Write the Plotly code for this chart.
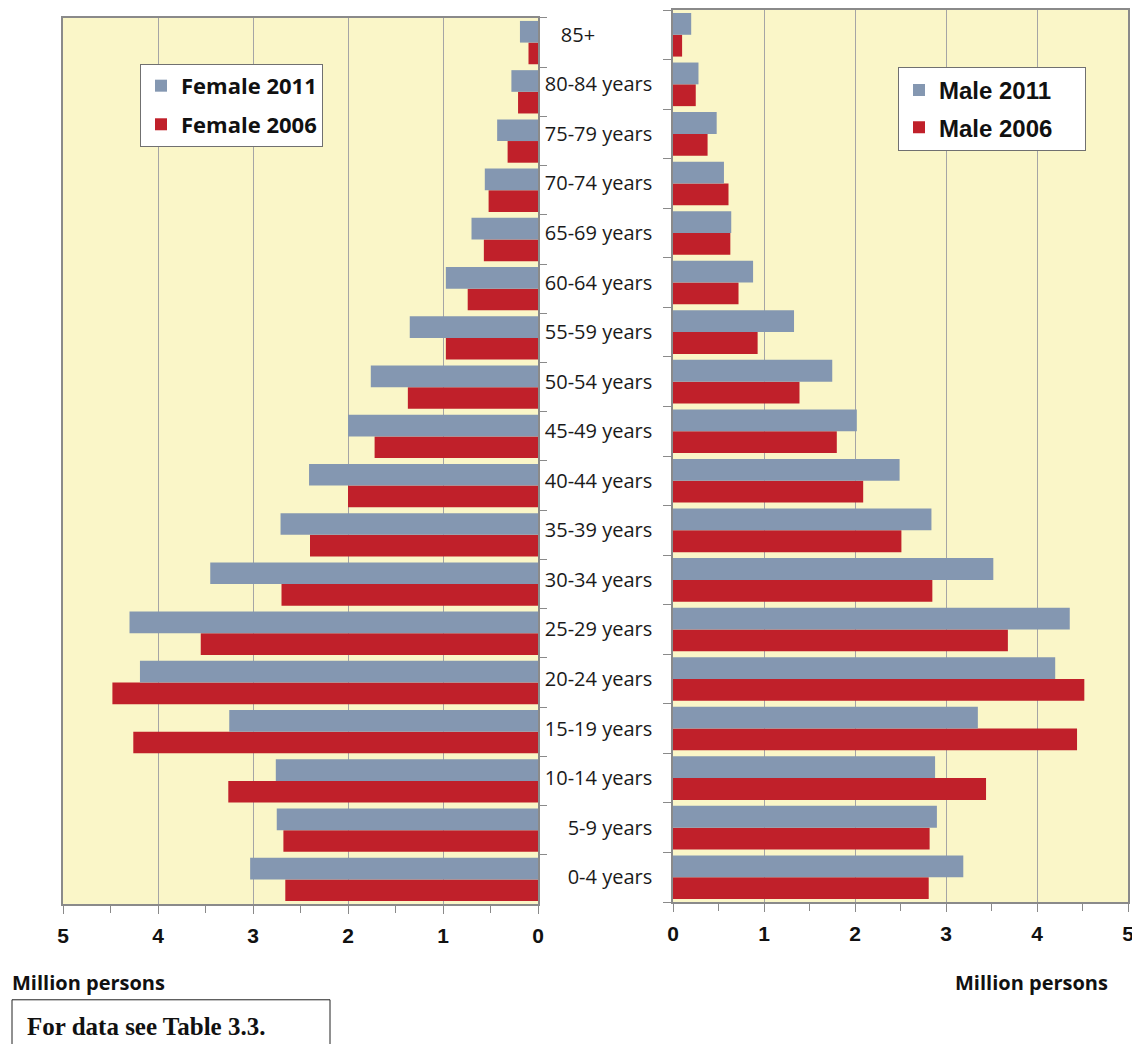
import plotly.graph_objects as go

age_groups = ["0-4 years", "5-9 years", "10-14 years", "15-19 years", "20-24 years",
              "25-29 years", "30-34 years", "35-39 years", "40-44 years", "45-49 years",
              "50-54 years", "55-59 years", "60-64 years", "65-69 years", "70-74 years",
              "75-79 years", "80-84 years", "85+"]
female_2011 = [3.03, 2.75, 2.76, 3.25, 4.19, 4.30, 3.45, 2.71, 2.41, 2.00, 1.76, 1.35, 0.97, 0.70, 0.56, 0.43, 0.28, 0.19]
female_2006 = [2.66, 2.68, 3.26, 4.26, 4.48, 3.55, 2.70, 2.40, 2.00, 1.72, 1.37, 0.97, 0.74, 0.57, 0.52, 0.32, 0.21, 0.10]
male_2011 = [3.19, 2.90, 2.88, 3.35, 4.20, 4.36, 3.52, 2.84, 2.49, 2.02, 1.75, 1.33, 0.88, 0.64, 0.56, 0.48, 0.28, 0.20]
male_2006 = [2.81, 2.82, 3.44, 4.44, 4.52, 3.68, 2.85, 2.51, 2.09, 1.80, 1.39, 0.93, 0.72, 0.63, 0.61, 0.38, 0.25, 0.10]
x_ticks = [0, 1, 2, 3, 4, 5]

BLUE = "#8497B1"
RED = "#C0202A"
BG = "#FAF6C8"
GRID = "#A5A5A5"
AXIS = "#8A8A8A"

OFF = 8  # page offset of the figure (body margin)
W, H = 1132, 1036
ML, MR, MT, MB = 55, 12, 0, 140
PW = W - ML - MR
PH = H - MT - MB


def px_x(p):
    return (p - OFF - ML) / PW


def px_y(p):
    return min(1.0, 1 - (p - OFF - MT) / PH)


# label text: pad the short top label so it sits like the original
tick_text = [a if a != "85+" else a + "\u00a0" * 11 for a in age_groups]
PAD = "\u00a0" * 4  # extra room on the right of the male legend entries

fig = go.Figure()
fig.add_trace(go.Bar(y=age_groups, x=female_2006, orientation="h", name="Female 2006",
                     marker=dict(color=RED, line=dict(width=0)), xaxis="x", yaxis="y",
                     legend="legend", legendgroup="f06", legendrank=2))
fig.add_trace(go.Bar(y=age_groups, x=female_2011, orientation="h", name="Female 2011",
                     marker=dict(color=BLUE, line=dict(width=0)), xaxis="x", yaxis="y",
                     legend="legend", legendgroup="f11", legendrank=1))
fig.add_trace(go.Bar(y=age_groups, x=male_2006, orientation="h", name="Male 2006" + PAD,
                     marker=dict(color=RED, line=dict(width=0)), xaxis="x2", yaxis="y2",
                     legend="legend2", legendgroup="m06", legendrank=2))
fig.add_trace(go.Bar(y=age_groups, x=male_2011, orientation="h", name="Male 2011" + PAD,
                     marker=dict(color=BLUE, line=dict(width=0)), xaxis="x2", yaxis="y2",
                     legend="legend2", legendgroup="m11", legendrank=1))

xaxis_common = dict(
    tickvals=x_ticks, ticktext=[str(v) for v in x_ticks],
    showgrid=True, gridcolor=GRID, gridwidth=1,
    showline=True, linecolor=AXIS, linewidth=1.5, mirror=True,
    ticks="outside", ticklen=8, tickcolor=AXIS, tickwidth=1,
    minor=dict(dtick=0.5, ticks="outside", ticklen=7, tickcolor=AXIS, showgrid=False),
    tickfont=dict(family="Liberation Sans", size=21, color="#111111", weight="bold"),
    ticklabelstandoff=4, zeroline=False, fixedrange=True,
)

fig.update_layout(
    width=W, height=H,
    margin=dict(l=ML, r=MR, t=MT, b=MB),
    paper_bgcolor="white",
    plot_bgcolor=BG,
    barmode="group", bargap=0.12, bargroupgap=0.0,
    showlegend=True,
    xaxis=dict(domain=[0, px_x(538)], range=[5, 0], anchor="y", **xaxis_common),
    xaxis2=dict(domain=[px_x(673), 1], range=[0, 5], anchor="y2", **xaxis_common),
    yaxis=dict(domain=[px_y(904), px_y(16)], anchor="x", side="right", type="category",
               categoryorder="array", categoryarray=age_groups,
               tickson="boundaries", ticks="outside", ticklen=7, tickcolor=AXIS,
               showticklabels=False, showgrid=False,
               showline=True, linecolor=AXIS, linewidth=1.5, mirror=True),
    yaxis2=dict(domain=[px_y(902), px_y(6)], anchor="x2", side="left", type="category",
                categoryorder="array", categoryarray=age_groups,
                tickvals=age_groups, ticktext=tick_text,
                tickson="boundaries", ticks="outside", ticklen=8, tickcolor=AXIS,
                tickfont=dict(family="Open Sans", size=20, color="#1a1a1a"),
                ticklabelstandoff=15, showgrid=False,
                showline=True, linecolor=AXIS, linewidth=1.5, mirror=True),
    legend=dict(x=px_x(140), y=px_y(62), xanchor="left", yanchor="top",
                bgcolor="white", bordercolor="#707070", borderwidth=1,
                traceorder="grouped", tracegroupgap=7,
                font=dict(family="Open Sans", size=22, color="#111111", weight="bold")),
    legend2=dict(x=px_x(898), y=px_y(65), xanchor="left", yanchor="top",
                 bgcolor="white", bordercolor="#707070", borderwidth=1,
                 traceorder="grouped", tracegroupgap=3,
                 font=dict(family="Liberation Sans", size=24, color="#111111", weight="bold")),
)

annotations = [
    dict(text="Million persons", x=px_x(10), y=px_y(983), xanchor="left", yanchor="middle",
         font=dict(family="Open Sans", size=20, color="#111111", weight="bold")),
    dict(text="Million persons", x=px_x(1110), y=px_y(983), xanchor="right", yanchor="middle",
         font=dict(family="Open Sans", size=20, color="#111111", weight="bold")),
    dict(text="For data see Table 3.3.", x=px_x(25), y=px_y(1027), xanchor="left", yanchor="middle",
         font=dict(family="Liberation Serif", size=25, color="#111111", weight="bold")),
]
for a in annotations:
    a.update(xref="paper", yref="paper", showarrow=False)
fig.update_layout(annotations=annotations)

fig.add_shape(type="rect", xref="paper", yref="paper",
              x0=px_x(12), x1=px_x(330), y0=px_y(1000), y1=px_y(1060),
              line=dict(color="#222222", width=1), fillcolor="rgba(0,0,0,0)")

fig.write_html("out.html")
